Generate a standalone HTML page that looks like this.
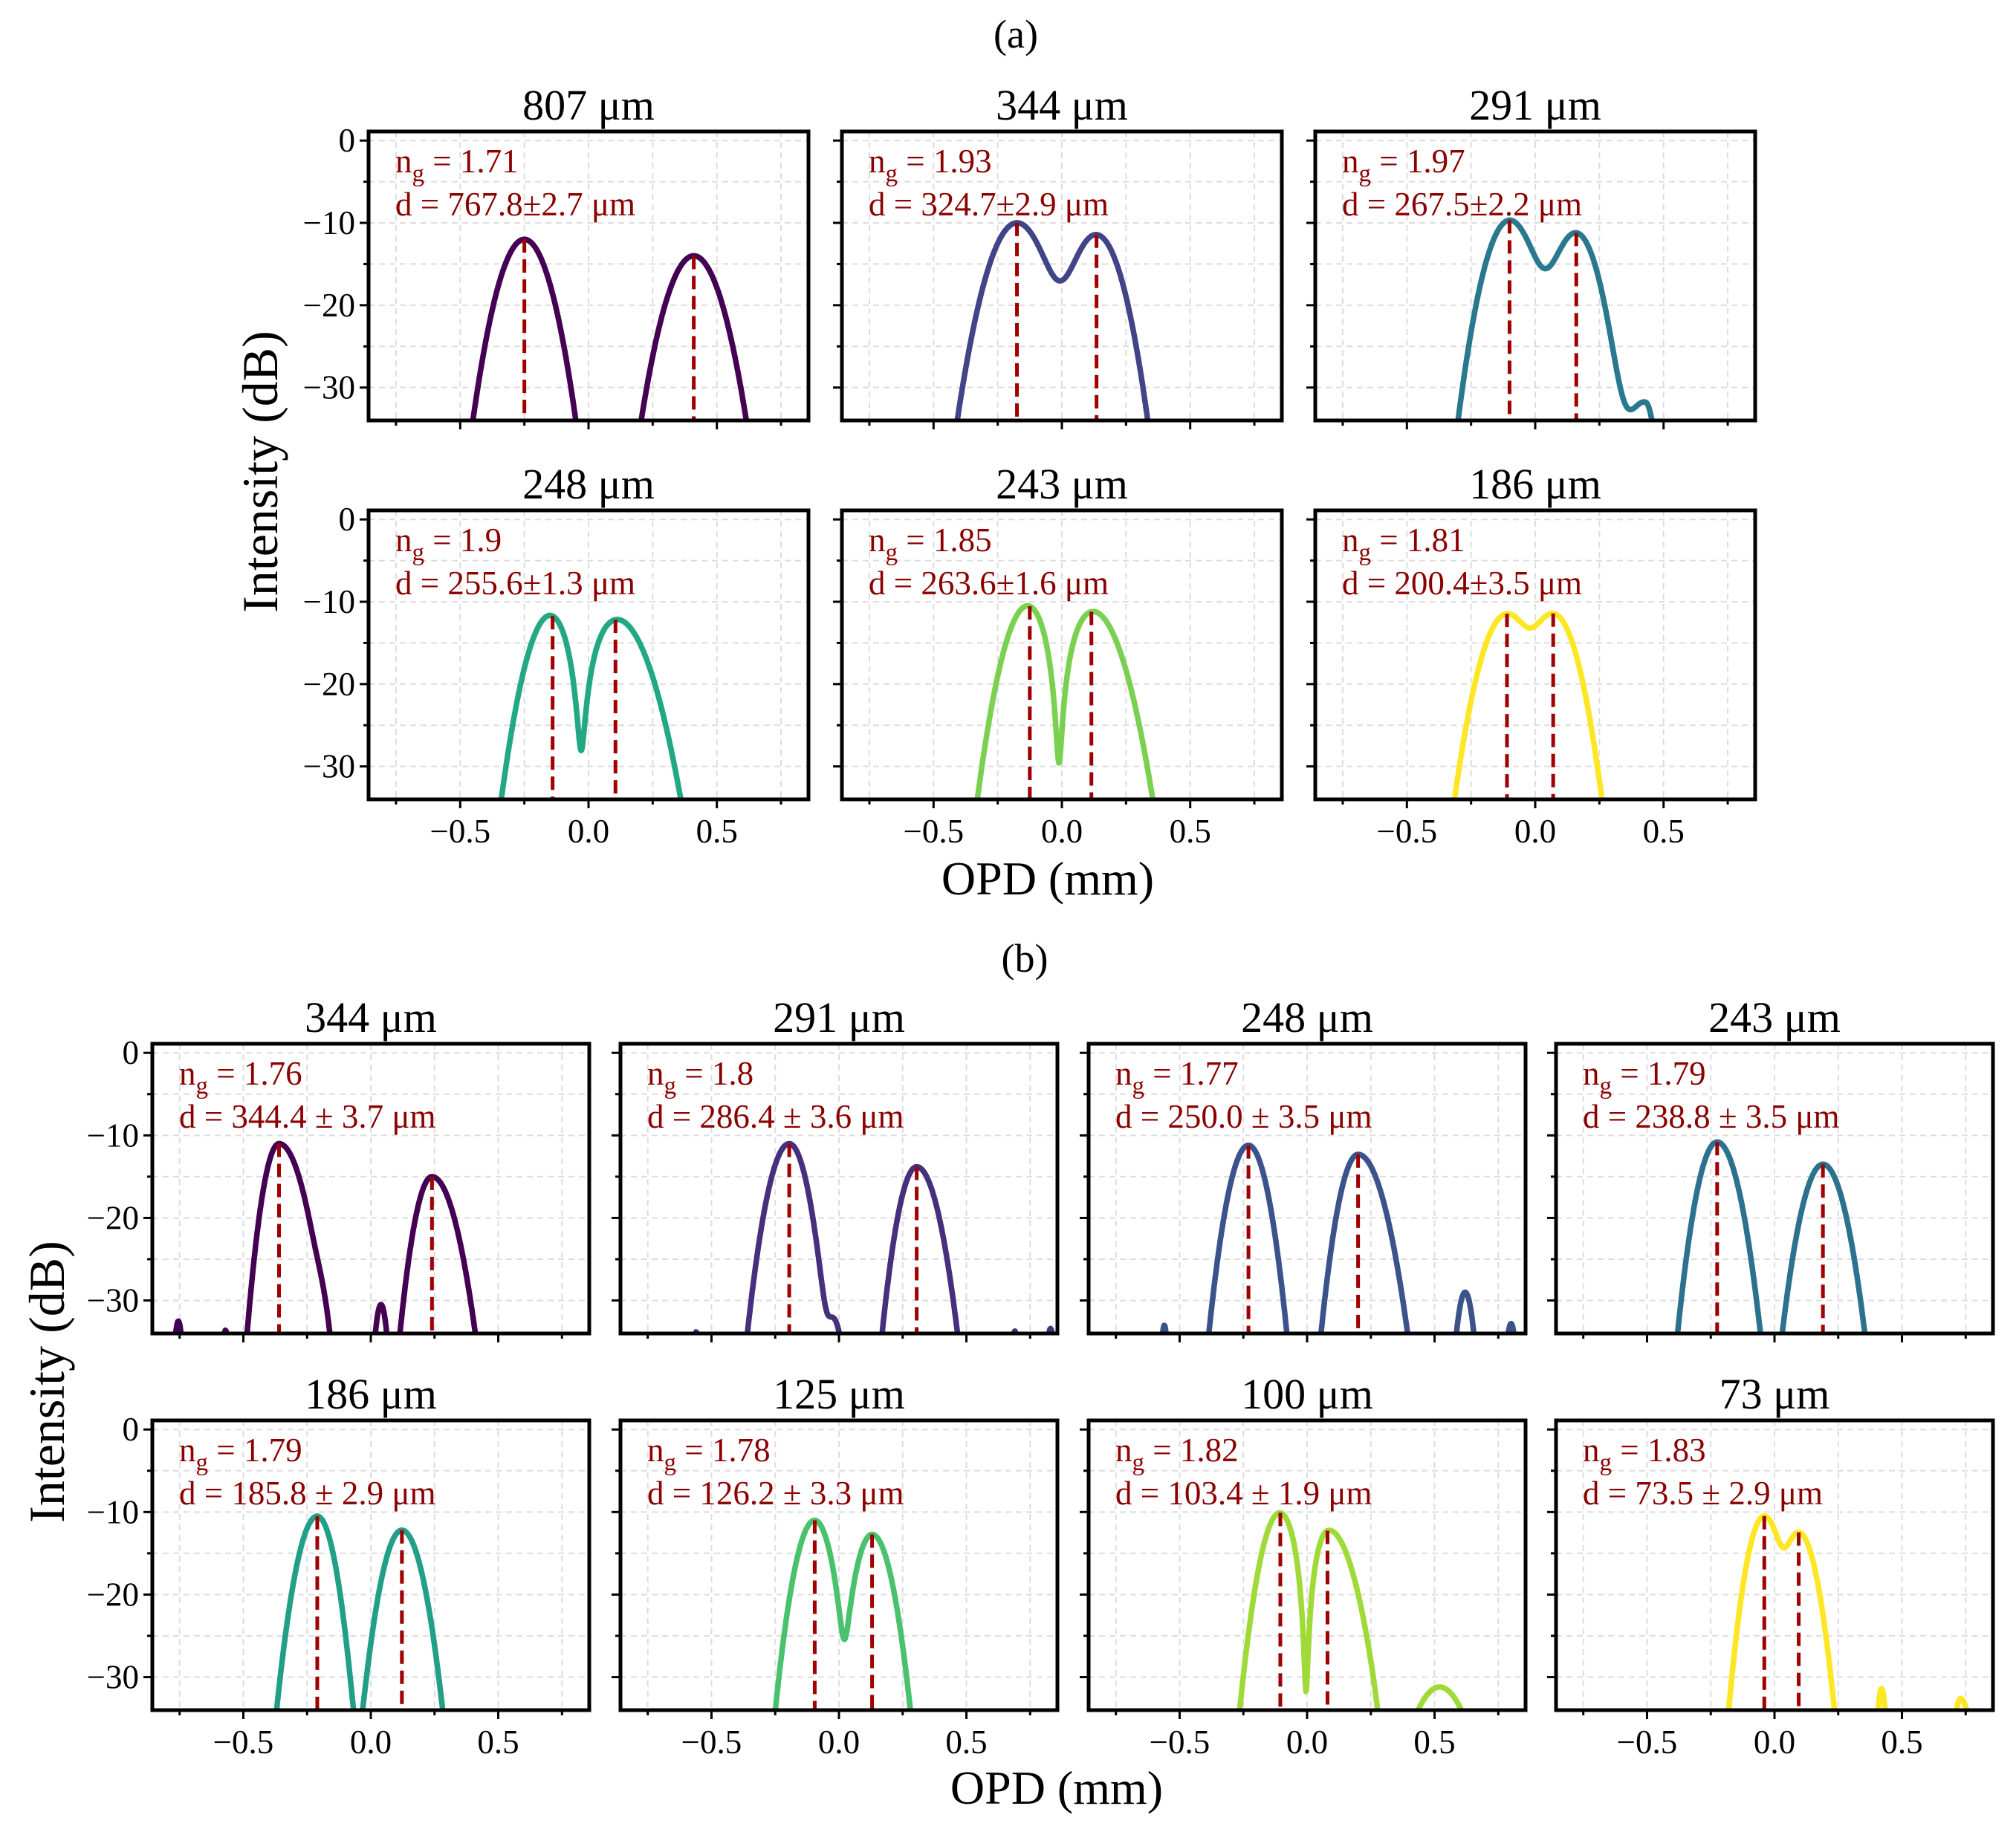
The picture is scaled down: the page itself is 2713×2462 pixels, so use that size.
<!DOCTYPE html>
<html><head><meta charset="utf-8"><style>
html,body{margin:0;padding:0;background:#fff;width:2713px;height:2462px;overflow:hidden}
svg{display:block}
text{font-family:"Liberation Serif","DejaVu Serif",serif}
</style></head><body>
<svg id="fig" width="2713" height="2462" viewBox="0 0 2713 2462" xmlns="http://www.w3.org/2000/svg">
<rect width="2713" height="2462" fill="#fff"/>
<text x="1367" y="64" font-size="54" text-anchor="middle">(a)</text>
<text x="1379" y="1308" font-size="54" text-anchor="middle">(b)</text>
<text x="1410" y="1204" font-size="64" text-anchor="middle">OPD (mm)</text>
<text x="1422" y="2428" font-size="64" text-anchor="middle">OPD (mm)</text>
<text transform="translate(373,635) rotate(-90)" font-size="68" text-anchor="middle">Intensity (dB)</text>
<text transform="translate(86,1860) rotate(-90)" font-size="68" text-anchor="middle">Intensity (dB)</text>
<g id="panels"></g>
</svg>
<script>
// panel data (order: a1..a6, b1..b8)
const titles=["807 μm","344 μm","291 μm","248 μm","243 μm","186 μm","344 μm","291 μm","248 μm","243 μm","186 μm","125 μm","100 μm","73 μm"];
const ngVals=["1.71","1.93","1.97","1.9","1.85","1.81","1.76","1.8","1.77","1.79","1.79","1.78","1.82","1.83"];
const dVals=["767.8±2.7","324.7±2.9","267.5±2.2","255.6±1.3","263.6±1.6","200.4±3.5","344.4 ± 3.7","286.4 ± 3.6","250.0 ± 3.5","238.8 ± 3.5","185.8 ± 2.9","126.2 ± 3.3","103.4 ± 1.9","73.5 ± 2.9"];
const colors=["#440154","#414487","#2a788e","#22a884","#7ad151","#fde725","#440154","#472f7d","#3b528b","#2c728e","#21a087","#4ac16d","#a0da39","#fde725"];
// peaks: position (mm), peak level (dB), left width, right width, sign
const peakPos=[[-0.25,0.41],[-0.175,0.135],[-0.1,0.16,0.43],[-0.14,0.105],[-0.125,0.115],[-0.11,0.07],
[-0.36,0.24,-0.2,-0.755,-0.57,0.04],[-0.195,0.305,-0.02,-0.9,-0.56,0.69,0.83],[-0.23,0.2,-0.56,0.62,0.8,0.9],[-0.225,0.19],
[-0.21,0.122],[-0.095,0.13],[-0.105,0.08,0.52],[-0.04,0.095,0.42,0.73]];
const peakDb=[[-12,-14],[-10,-11.5],[-9.7,-11.3,-32],[-11,-12],[-10,-11],[-11.5,-11.5],
[-11,-15,-31.5,-32.5,-33.6,-30.5],[-11,-13.8,-32.5,-29.5,-33.8,-33.7,-33.4],[-11.2,-12.3,-33,-29,-32.8,-32.2],[-10.8,-13.5],
[-10.5,-12.2],[-11,-12.7],[-10,-12,-31.2],[-10.5,-12.5,-31.4,-32.6]];
const peakWl=[[0.126,0.135],[0.14,0.12],[0.12,0.11,0.09],[0.123,0.16],[0.123,0.147],[0.127,0.118],
[0.077,0.085,0.05,0.025,0.02,0.035],[0.101,0.089,0.05,0.06,0.02,0.02,0.025],[0.096,0.092,0.02,0.045,0.03,0.03],[0.095,0.104],
[0.097,0.097],[0.095,0.09],[0.096,0.09,0.15],[0.085,0.08,0.025,0.04]];
const peakWr=[[0.126,0.135],[0.14,0.124],[0.12,0.11,0.05],[0.123,0.16],[0.123,0.147],[0.127,0.118],
[0.115,0.115,0.05,0.025,0.02,0.035],[0.091,0.105,0.05,0.06,0.02,0.02,0.025],[0.093,0.123,0.02,0.045,0.03,0.03],[0.104,0.107],
[0.086,0.101],[0.09,0.096],[0.096,0.126,0.15],[0.085,0.089,0.025,0.06]];
const peakSign=[[1,1],[1,1],[1,1,1],[1,-1],[1,-1],[1,1],[1,1,1,1,1,1],[1,1,1,1,1,1,1],[1,1,1,1,1,1],[1,1],[1,1],[1,-1],[1,-1,1],[1,1,1,1]];
const coherence=[0,1,1,0.95,0.97,0,0,0,0,0,0,0.5,0.97,0];
const yTicks=[0,-10,-20,-30];
const xTicks=[-0.5,0,0.5];
const xTickLabels=["−0.5","0.0","0.5"];
const yTickLabels=["0","−10","−20","−30"];

const NS="http://www.w3.org/2000/svg";
const root=document.getElementById('panels');
function mk(tag,attrs,parent){const e=document.createElementNS(NS,tag);for(const k in attrs)e.setAttribute(k,attrs[k]);(parent||root).appendChild(e);return e;}
const X0=-0.857,X1=0.857,Y0=-34,Y1=1.1;
function layout(i){
  if(i<6){const c=i%3,r=Math.floor(i/3);return{l:[496,1133,1770][c],t:[177,687][r],w:592,h:389,first:c===0,bottom:r===1};}
  const j=i-6,c=j%4,r=Math.floor(j/4);return{l:[205,835,1465,2094][c],t:[1405,1912][r],w:588,h:390,first:c===0,bottom:r===1};
}
function level(i,x){
  const P=peakPos[i];let inc=0,amp=0;
  for(let k=0;k<P.length;k++){
    const w=x<P[k]?peakWl[i][k]:peakWr[i][k];const u=(x-P[k])/w;
    const a=Math.pow(10,peakDb[i][k]/20)*Math.exp(-u*u);
    inc+=a*a;amp+=peakSign[i][k]*a;
  }
  const g=coherence[i];const p=(1-g)*inc+g*amp*amp+1e-9;
  return Math.max(10*Math.log10(p),-60);
}
for(let i=0;i<titles.length;i++){
  const L=layout(i);
  const sx=v=>L.l+(v-X0)/(X1-X0)*L.w;
  const sy=v=>L.t+(Y1-v)/(Y1-Y0)*L.h;
  const g=mk('g',{});
  
  
  const cid='clip'+i;
  const cp=mk('clipPath',{id:cid},g);mk('rect',{x:L.l,y:L.t,width:L.w,height:L.h},cp);
  for(let v=0;v>=-30;v-=5){const ln=mk('line',{x1:L.l,x2:L.l+L.w,y1:sy(v),y2:sy(v),stroke:'#ddd','stroke-width':2,'stroke-dasharray':'8,6'},g);
    }
  for(let v=-0.75;v<=0.76;v+=0.25){const ln=mk('line',{x1:sx(v),x2:sx(v),y1:L.t,y2:L.t+L.h,stroke:'#ddd','stroke-width':2,'stroke-dasharray':'8,6'},g);
    }
  let d='';const N=700;
  for(let s=0;s<=N;s++){const x=X0+(X1-X0)*s/N;d+=(s?'L':'M')+sx(x).toFixed(1)+','+sy(level(i,x)).toFixed(1);}
  const path=mk('path',{d:d,fill:'none',stroke:colors[i],'stroke-width':7.5,'stroke-linejoin':'round','clip-path':'url(#'+cid+')'},g);
  
  for(let k=0;k<2;k++){const x=peakPos[i][k];
    const ln=mk('line',{x1:sx(x),x2:sx(x),y1:sy(level(i,x)),y2:L.t+L.h,stroke:'#a00000','stroke-width':5,'stroke-dasharray':'18,9'},g);
    }
  const fr=mk('rect',{x:L.l,y:L.t,width:L.w,height:L.h,fill:'none',stroke:'#000','stroke-width':5},g);
  
  for(let v=0;v>=-30;v-=5){const major=v%10===0;mk('line',{x1:L.l-(major?12:7),x2:L.l,y1:sy(v),y2:sy(v),stroke:'#000','stroke-width':3},g);}
  for(let v=-0.75;v<=0.76;v+=0.25){const major=Math.abs(v*2-Math.round(v*2))<1e-6;mk('line',{x1:sx(v),x2:sx(v),y1:L.t+L.h,y2:L.t+L.h+(major?12:7),stroke:'#000','stroke-width':3},g);}
  if(L.first){for(let k=0;k<yTicks.length;k++){const t=mk('text',{x:L.l-18,y:sy(yTicks[k])+15,'font-size':45,'text-anchor':'end'},g);t.textContent=yTickLabels[k];
    }}
  if(L.bottom){for(let k=0;k<xTicks.length;k++){const t=mk('text',{x:sx(xTicks[k]),y:L.t+L.h+58,'font-size':45,'text-anchor':'middle'},g);t.textContent=xTickLabels[k];
    }}
  const tt=mk('text',{x:L.l+L.w/2,y:L.t-16,'font-size':58,'text-anchor':'middle'},g);tt.textContent=titles[i];
  
  const t1=mk('text',{x:L.l+36,y:L.t+55,'font-size':45,fill:'#8b0000'},g);
  
  t1.appendChild(document.createTextNode('n'));
  const sub=mk('tspan',{dy:12,'font-size':33},t1);sub.textContent='g';
  const rest=mk('tspan',{dy:-12},t1);rest.textContent=' = '+ngVals[i];
  const t2=mk('text',{x:L.l+36,y:L.t+113,'font-size':45,fill:'#8b0000'},g);t2.textContent='d = '+dVals[i]+' μm';
  
}
</script>
</body></html>
